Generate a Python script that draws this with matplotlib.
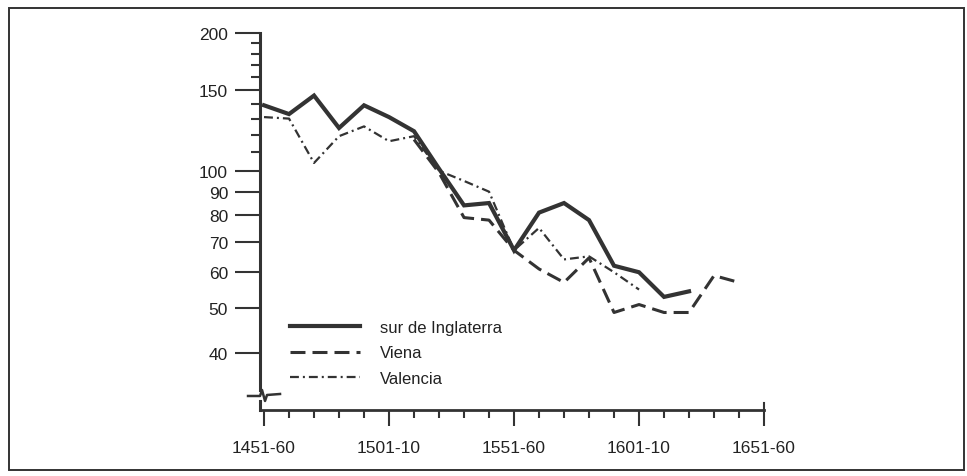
import matplotlib
matplotlib.use("Agg")
import matplotlib.pyplot as plt
import numpy as np
from matplotlib.lines import Line2D
from matplotlib.patches import Rectangle
from matplotlib.ticker import FixedLocator, NullFormatter

plt.rcParams["font.family"] = ["Liberation Sans", "DejaVu Sans"]

INK = "#333333"

# decade start years (1451-60, 1461-70, ... 1641-50)
years = np.arange(1451, 1651, 10)

inglaterra = [139, 133, 146, 124, 139, 131, 122, 101, 84, 85,
              67, 81, 85, 78, 62, 60, 53, 54.5, np.nan, np.nan]
viena = [np.nan, np.nan, np.nan, np.nan, np.nan, np.nan, 117, 99, 79, 78,
         67, 61, 57, 64.5, 49, 51, 49, 49, 59, 57]
valencia = [131, 130, 104, 119, 125, 116, 119, 100, 95, 90,
            67, 75, 64, 65, 60, 55, np.nan, np.nan, np.nan, np.nan]

series_labels = ["sur de Inglaterra", "Viena", "Valencia"]

x_major = [1451, 1501, 1551, 1601, 1651]
x_major_labels = ["1451-60", "1501-10", "1551-60", "1601-10", "1651-60"]
x_minor = list(range(1461, 1651, 10))

y_major = [200, 150, 100, 90, 80, 70, 60, 50, 40]
y_minor = [110, 120, 130, 140, 160, 170, 180, 190]

fig = plt.figure(figsize=(9.67, 4.77), dpi=100)
ax = fig.add_axes([0.2689, 0.1384, 0.5212, 0.7903])

ax.plot(years, inglaterra, color=INK, lw=3.0, solid_joinstyle="miter",
        label=series_labels[0])
ax.plot(years, viena, color=INK, lw=2.2, dashes=(4.9, 2.3),
        label=series_labels[1])
ax.plot(years, valencia, color=INK, lw=1.6, dashes=(4, 1.8, 0.9, 1.8),
        label=series_labels[2])

ax.set_yscale("log")
ax.set_ylim(30, 200)
ax.set_xlim(1449.4, 1651)

ax.yaxis.set_major_locator(FixedLocator(y_major))
ax.yaxis.set_minor_locator(FixedLocator(y_minor))
ax.set_yticklabels([str(v) for v in y_major])
ax.yaxis.set_minor_formatter(NullFormatter())

ax.xaxis.set_major_locator(FixedLocator(x_major))
ax.xaxis.set_minor_locator(FixedLocator(x_minor))
ax.set_xticklabels(x_major_labels)

ax.tick_params(axis="y", which="major", length=18, width=1.5, pad=5,
               labelsize=12.5, color=INK, labelcolor="#222222")
ax.tick_params(axis="y", which="minor", length=6.5, width=1.5, color=INK)
ax.tick_params(axis="x", which="major", length=11.5, width=1.5, pad=10,
               labelsize=12.5, color=INK, labelcolor="#222222")
ax.tick_params(axis="x", which="minor", length=5.8, width=1.5, color=INK)

for side in ["top", "right"]:
    ax.spines[side].set_visible(False)
ax.spines["left"].set_linewidth(2.2)
ax.spines["left"].set_color(INK)
ax.spines["bottom"].set_linewidth(2.0)
ax.spines["bottom"].set_color(INK)

# axis break on the y axis
w_px, h_px = 504.0, 377.0
break_top = 20 / h_px
break_bot = 9 / h_px
to_data = ax.transAxes + ax.transData.inverted()
y_top_val = to_data.transform((0, break_top))[1]
ax.spines["left"].set_bounds(y_top_val, 200)
ax.add_line(Line2D([0, 0], [0, break_bot], transform=ax.transAxes,
                   color=INK, lw=2.2, clip_on=False))
zz_x = np.array([-12, 0, 2, 5, 7, 20]) / w_px
zz_y = (np.array([-1, -1, 5, -6, 0, 1]) + 15) / h_px
ax.add_line(Line2D(zz_x, zz_y, transform=ax.transAxes, color=INK, lw=1.8,
                   clip_on=False))
# small upward tick at the right end of the x axis
ax.add_line(Line2D([1, 1], [0, 7 / h_px], transform=ax.transAxes,
                   color=INK, lw=1.5, clip_on=False))

ax.legend(loc="upper left", bbox_to_anchor=(0.2999, 0.327),
          bbox_transform=fig.transFigure, frameon=False, fontsize=12,
          handlelength=4.2, handletextpad=1.2, labelspacing=0.62,
          borderpad=0, borderaxespad=0, labelcolor="#222222")

fig.add_artist(Rectangle((0.0093, 0.0126), 0.9876, 0.9686,
                         transform=fig.transFigure, fill=False,
                         edgecolor=INK, lw=1.4))

fig.savefig("out.png", dpi=100)
